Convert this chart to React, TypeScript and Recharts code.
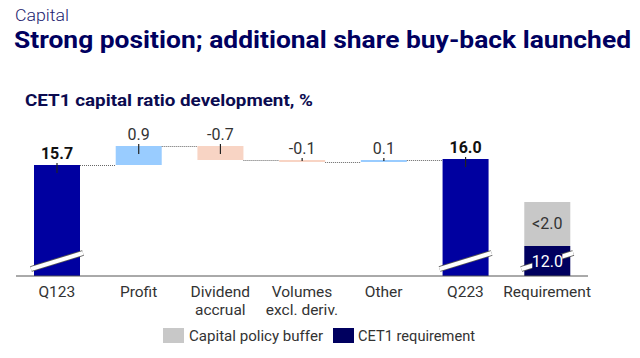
import React from 'react';
import { BarChart, Bar, XAxis, YAxis, Cell } from 'recharts';

// ---- data ----
const categories = ['Q123', 'Profit', 'Dividend accrual', 'Volumes excl. deriv.', 'Other', 'Q223', 'Requirement'];
const tickLines = [['Q123'], ['Profit'], ['Dividend', 'accrual'], ['Volumes', 'excl. deriv.'], ['Other'], ['Q223'], ['Requirement']];
const startRatio = 15.7;
const changes = [0.95, -0.7, -0.1, 0.1];
const endRatio = 16.0;
const valueLabels = ['15.7', '0.9', '-0.7', '-0.1', '0.1', '16.0'];
const cet1Requirement = 11.65; // drawn on broken axis
const capitalPolicyBuffer = 2.2; // drawn on broken axis
const requirementLabels = ['12.0', '<2.0'];
const legendNames = ['Capital policy buffer', 'CET1 requirement'];

// ---- styling / layout ----
const W = 640;
const H = 358;
const MARGIN = { top: 125, right: 52, left: 16, bottom: 52 };
const XAXIS_H = 30;
const AXIS_FLOOR = 10.15;
const AXIS_TOP = 17.7;
const BAND = (W - MARGIN.left - MARGIN.right) / categories.length;
const FONT = 'Roboto, "Noto Sans", sans-serif';
const TITLE_FONT = 'Roboto, "Noto Sans", sans-serif';

const C_TOTAL = '#0000a0';
const C_REQ = '#00005f';
const C_UP = '#99ccff';
const C_DOWN = '#f8d4c4';
const C_BUFFER = '#c8c8c8';

type Row = {
  cat: string;
  base: number;
  main: number;
  buffer: number;
  kind: 'total' | 'up' | 'down' | 'req';
  label: string;
};

const rows: Row[] = [];
rows.push({ cat: categories[0], base: AXIS_FLOOR, main: startRatio - AXIS_FLOOR, buffer: 0, kind: 'total', label: valueLabels[0] });
let running = startRatio;
changes.forEach((c, i) => {
  const low = Math.min(running, running + c);
  rows.push({ cat: categories[i + 1], base: low, main: Math.abs(c), buffer: 0, kind: c >= 0 ? 'up' : 'down', label: valueLabels[i + 1] });
  running += c;
});
rows.push({ cat: categories[5], base: AXIS_FLOOR, main: endRatio - AXIS_FLOOR, buffer: 0, kind: 'total', label: valueLabels[5] });
rows.push({ cat: categories[6], base: AXIS_FLOOR, main: cet1Requirement - AXIS_FLOOR, buffer: capitalPolicyBuffer, kind: 'req', label: requirementLabels[0] });

const colorOf = (k: Row['kind']) => (k === 'total' ? C_TOTAL : k === 'req' ? C_REQ : k === 'up' ? C_UP : C_DOWN);

const BreakMark = ({ x, width, bottom }: { x: number; width: number; bottom: number }) => {
  const x1 = x - 3;
  const y1 = bottom - 7;
  const x2 = x + width + 3;
  const y2 = bottom - 23;
  return (
    <g>
      <line x1={x1} y1={y1} x2={x2} y2={y2} stroke="#555" strokeWidth={6} />
      <line x1={x1} y1={y1} x2={x2} y2={y2} stroke="#fff" strokeWidth={4} />
    </g>
  );
};

const MainShape = (props: any) => {
  const { x, y, width, height, index } = props;
  const row = rows[index];
  if (!row) return <g />;
  const bottom = y + height;
  const cx = x + width / 2;
  const isTotal = row.kind === 'total';
  const endLevel = row.kind === 'down' ? bottom : y;
  const showConnector = index < rows.length - 2;
  return (
    <g>
      <rect x={x} y={y} width={width} height={Math.max(height, 1)} fill={colorOf(row.kind)} />
      {(isTotal || row.kind === 'req') && <BreakMark x={x} width={width} bottom={bottom} />}
      {showConnector && (
        <line x1={x + width} y1={endLevel + 0.5} x2={x + BAND} y2={endLevel + 0.5} stroke="#666" strokeWidth={1} strokeDasharray="1 1" />
      )}
      {row.kind !== 'req' && (
        <g>
          <line x1={cx} y1={y - 2} x2={cx} y2={Math.min(y + 8, bottom - 1)} stroke="#222" strokeWidth={1.2} />
          <text x={cx} y={y - 6} textAnchor="middle" fontSize={16} fontWeight={isTotal ? 700 : 400} fill={isTotal ? '#111' : '#333'} fontFamily={FONT}>
            {row.label}
          </text>
        </g>
      )}
      {row.kind === 'req' && (
        <g>
          <rect x={cx - 15} y={bottom - 22} width={30} height={15} fill={C_REQ} />
          <text x={cx} y={bottom - 9} textAnchor="middle" fontSize={16} fill="#fff" fontFamily={FONT}>
            {row.label}
          </text>
        </g>
      )}
    </g>
  );
};

const BufferShape = (props: any) => {
  const { x, y, width, height, index } = props;
  const row = rows[index];
  if (!row || !row.buffer) return <g />;
  return (
    <g>
      <rect x={x} y={y} width={width} height={height} fill={C_BUFFER} />
      <text x={x + width / 2} y={y + height / 2 + 5} textAnchor="middle" fontSize={16} fill="#333" fontFamily={FONT}>
        {requirementLabels[1]}
      </text>
    </g>
  );
};

const Tick = (props: any) => {
  const { x, y, payload } = props;
  const i = categories.indexOf(payload.value);
  const lines = tickLines[i] || [payload.value];
  return (
    <g>
      {lines.map((l, k) => (
        <text key={k} x={x} y={y + 19 + k * 18} textAnchor="middle" fontSize={15.5} fill="#333" fontFamily={FONT}>
          {l}
        </text>
      ))}
    </g>
  );
};

export default function App() {
  return (
    <div style={{ position: 'absolute', left: 0, top: 0, width: W, height: H, background: '#fff', fontFamily: FONT }}>
      <BarChart width={W} height={H} data={rows} margin={MARGIN} barSize={46}>
        <XAxis
          dataKey="cat"
          height={XAXIS_H}
          interval={0}
          tickSize={0}
          tickLine={false}
          axisLine={{ stroke: '#555', strokeWidth: 1 }}
          tick={<Tick />}
        />
        <YAxis hide domain={[AXIS_FLOOR, AXIS_TOP]} allowDataOverflow type="number" />
        <Bar dataKey="base" stackId="w" fill="transparent" isAnimationActive={false} shape={() => <g />} />
        <Bar dataKey="main" stackId="w" isAnimationActive={false} shape={<MainShape />}>
          {rows.map((r, i) => (
            <Cell key={i} fill={colorOf(r.kind)} />
          ))}
        </Bar>
        <Bar dataKey="buffer" stackId="w" fill={C_BUFFER} isAnimationActive={false} shape={<BufferShape />} />
      </BarChart>
      <svg width={W} height={H} style={{ position: 'absolute', left: 0, top: 0, pointerEvents: 'none' }}>
        <text x={15} y={21} fontSize={16} fontWeight={300} fill="#1c1c70" fontFamily={TITLE_FONT} textLength={54} lengthAdjust="spacingAndGlyphs">
          Capital
        </text>
        <text x={14} y={48} fontSize={23} fontWeight={700} fill="#00005f" fontFamily={TITLE_FONT} textLength={617} lengthAdjust="spacingAndGlyphs">
          Strong position; additional share buy-back launched
        </text>
        <text x={25} y={106} fontSize={17} fontWeight={700} fill="#0b0b50" fontFamily={TITLE_FONT} textLength={288} lengthAdjust="spacingAndGlyphs">
          CET1 capital ratio development, %
        </text>
        <rect x={163} y={328} width={21} height={15} fill={C_BUFFER} />
        <text x={189} y={341} fontSize={15.5} fill="#333" fontFamily={FONT} textLength={134} lengthAdjust="spacingAndGlyphs">
          {legendNames[0]}
        </text>
        <rect x={333} y={328} width={21} height={15} fill={C_REQ} />
        <text x={358} y={341} fontSize={15.5} fill="#333" fontFamily={FONT} textLength={117} lengthAdjust="spacingAndGlyphs">
          {legendNames[1]}
        </text>
      </svg>
    </div>
  );
}
